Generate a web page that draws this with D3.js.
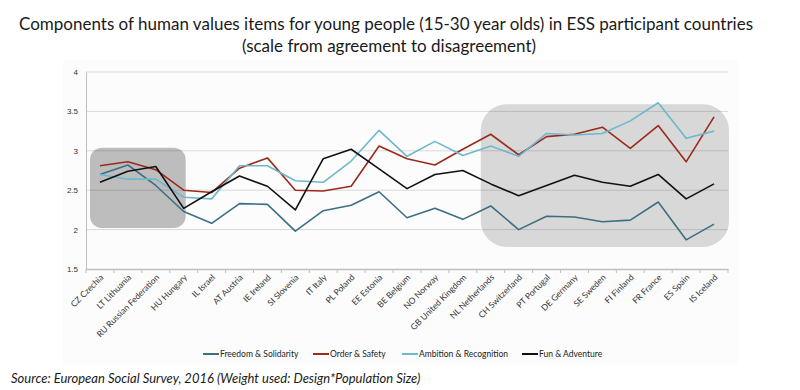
<!DOCTYPE html>
<html>
<head>
<meta charset="utf-8">
<script src="https://cdn.jsdelivr.net/npm/d3@7"></script>
<style>
  body { margin: 0; background: #fff; }
  svg { display: block; font-family: Lato, "Open Sans", sans-serif; }
</style>
</head>
<body>
<div class="plot"></div>
<script>
// Data
const countries = ["CZ Czechia", "LT Lithuania", "RU Russian Federation", "HU Hungary", "IL Israel",
  "AT Austria", "IE Ireland", "SI Slovenia", "IT Italy", "PL Poland", "EE Estonia", "BE Belgium",
  "NO Norway", "GB United Kingdom", "NL Netherlands", "CH Switzerland", "PT Portugal", "DE Germany",
  "SE Sweden", "FI Finland", "FR France", "ES Spain", "IS Iceland"];
const freedom = [2.70, 2.82, 2.56, 2.23, 2.08, 2.33, 2.32, 1.98, 2.24, 2.31, 2.48, 2.15,
  2.27, 2.13, 2.30, 2.00, 2.17, 2.16, 2.10, 2.12, 2.35, 1.87, 2.07];
const order = [2.81, 2.86, 2.76, 2.50, 2.47, 2.78, 2.91, 2.50, 2.49, 2.55, 3.06, 2.90,
  2.82, 3.02, 3.21, 2.95, 3.18, 3.21, 3.30, 3.03, 3.32, 2.86, 3.43];
const ambition = [2.70, 2.64, 2.64, 2.41, 2.39, 2.81, 2.81, 2.62, 2.60, 2.87, 3.26, 2.93,
  3.12, 2.94, 3.06, 2.93, 3.22, 3.20, 3.22, 3.38, 3.61, 3.16, 3.25];
const fun = [2.60, 2.74, 2.80, 2.27, 2.48, 2.68, 2.55, 2.25, 2.90, 3.02, 2.77, 2.52,
  2.70, 2.75, 2.58, 2.43, 2.56, 2.69, 2.60, 2.55, 2.70, 2.39, 2.58];
const seriesNames = ["Freedom & Solidarity", "Order & Safety", "Ambition & Recognition", "Fun & Adventure"];
const yTicks = [1.5, 2, 2.5, 3, 3.5, 4];

const colors = ["#3d6f80", "#9a2b1c", "#6db8cc", "#111111"];
const series = [freedom, order, ambition, fun];

const W = 800, H = 390;
const margin = {top: 72, right: 72, bottom: 121, left: 86};
const w = W - margin.left - margin.right;
const h = H - margin.top - margin.bottom;

const svg = d3.select(".plot")
  .append("svg")
    .attr("width", W)
    .attr("height", H);

// faint chart area background
svg.append("rect")
  .attr("x", 63).attr("y", 60)
  .attr("width", 675).attr("height", 305)
  .attr("fill", "#fcfcfc");

// Title
const title = svg.append("text")
  .attr("text-anchor", "middle")
  .attr("fill", "#1a1a1a")
  .style("font-size", "17px");
title.append("tspan").attr("x", 386).attr("y", 30)
  .text("Components of human values items for young people (15-30 year olds) in ESS participant countries");
title.append("tspan").attr("x", 389).attr("y", 52)
  .text("(scale from agreement to disagreement)");

const g = svg.append("g")
  .attr("transform", "translate(" + margin.left + "," + margin.top + ")");

const x = d3.scaleBand().domain(countries).range([0, w]);
const y = d3.scaleLinear().domain([1.5, 4]).range([h, 0]);

// gridlines
g.selectAll(".grid")
  .data(yTicks.slice(1))
  .enter()
  .append("line")
    .attr("x1", 0).attr("x2", w)
    .attr("y1", d => y(d)).attr("y2", d => y(d))
    .attr("stroke", "#d9d9d9")
    .attr("stroke-width", 1);

// y axis
const yAxis = g.append("g")
  .call(d3.axisLeft(y).tickValues(yTicks).tickSize(0).tickPadding(8).tickFormat(d3.format("")));
yAxis.select(".domain").attr("stroke", "#bfbfbf");
yAxis.selectAll("text").style("font-size", "8px").attr("fill", "#333");

// highlight boxes
const leftBox = {from: 0, to: 3, top: 3.04, bottom: 2.02, r: 12, op: 0.25};
const rightBox = {from: 14, to: 22, top: 3.59, bottom: 1.78, r: 26, op: 0.14};
[leftBox, rightBox].forEach(b => {
  const x0 = x(countries[b.from]) + x.bandwidth() / 2 - 10;
  const x1 = x(countries[b.to]) + x.bandwidth() / 2 + (b.to === countries.length - 1 ? 15 : 2);
  g.append("rect")
    .attr("x", x0).attr("y", y(b.top))
    .attr("width", x1 - x0).attr("height", y(b.bottom) - y(b.top))
    .attr("rx", b.r).attr("ry", b.r)
    .attr("fill", "#000")
    .attr("fill-opacity", b.op);
});

// x axis
const xAxis = g.append("g")
  .attr("transform", "translate(0," + h + ")")
  .call(d3.axisBottom(x).tickSize(0).tickFormat(""));
xAxis.select(".domain").attr("stroke", "#bfbfbf").attr("stroke-width", 1.3);
g.append("g").selectAll("line")
  .data(d3.range(countries.length + 1))
  .enter()
  .append("line")
    .attr("x1", i => i * x.step()).attr("x2", i => i * x.step())
    .attr("y1", h).attr("y2", h + 4)
    .attr("stroke", "#bfbfbf");

g.append("g").selectAll("text")
  .data(countries)
  .enter()
  .append("text")
    .attr("text-anchor", "end")
    .attr("fill", "#333")
    .style("font-size", "8.5px")
    .attr("transform", d => "translate(" + (x(d) + x.bandwidth() / 2 + 4) + "," + (h + 9) + ") rotate(-45)")
    .text(d => d);

// lines
const line = d3.line()
  .x((d, i) => x(countries[i]) + x.bandwidth() / 2)
  .y(d => y(d));

g.selectAll(".series")
  .data(series)
  .enter()
  .append("path")
    .attr("fill", "none")
    .attr("stroke", (d, i) => colors[i])
    .attr("stroke-width", 1.6)
    .attr("stroke-linejoin", "round")
    .attr("d", line);

// legend
const legendX = [203, 313, 402, 522];
const legend = svg.append("g").attr("transform", "translate(0,354)");
seriesNames.forEach((name, i) => {
  legend.append("line")
    .attr("x1", legendX[i]).attr("x2", legendX[i] + 16)
    .attr("y1", 0).attr("y2", 0)
    .attr("stroke", colors[i])
    .attr("stroke-width", 2);
  legend.append("text")
    .attr("x", legendX[i] + 17).attr("y", 3)
    .attr("fill", "#222")
    .style("font-size", "8.5px")
    .text(name);
});

// source note
svg.append("text")
  .attr("x", 11).attr("y", 383)
  .attr("fill", "#1a1a1a")
  .style("font-size", "13px")
  .style("font-style", "italic")
  .text("Source: European Social Survey, 2016 (Weight used: Design*Population Size)");
</script>
</body>
</html>
